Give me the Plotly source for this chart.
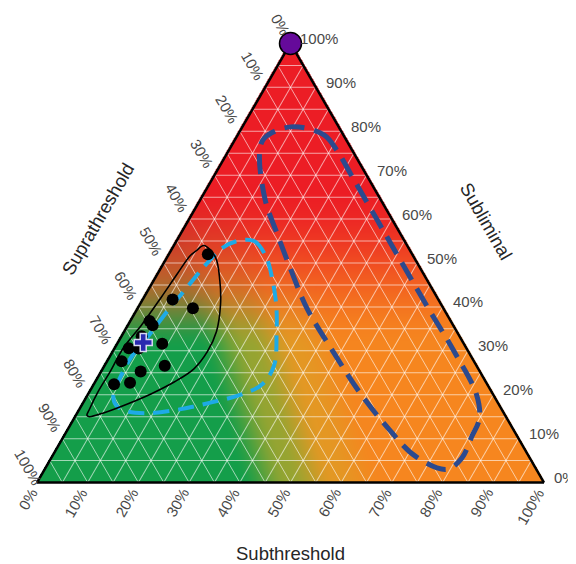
import math
import zlib
import struct
import base64
import numpy as np
import plotly.graph_objects as go

# ---------------- data (percent) ----------------
# a = Subliminal (top), b = Suprathreshold (bottom-left), c = Subthreshold (bottom-right)
dots_subliminal = [52.0, 41.7, 39.7, 36.8, 35.8, 33.3, 30.6, 30.5, 31.6, 27.6, 25.3, 26.6, 22.4, 22.7]
dots_suprathreshold = [40.3, 52.4, 49.4, 59.4, 59.3, 62.7, 66.6, 64.7, 59.5, 69.5, 66.9, 61.5, 73.6, 70.3]
dots_subthreshold = [7.7, 5.9, 10.9, 3.8, 4.9, 4.0, 2.8, 4.8, 8.9, 2.9, 7.8, 11.9, 4.0, 7.0]

mean_subliminal = [31.9]
mean_suprathreshold = [63.1]
mean_subthreshold = [5.0]

ref_subliminal = [100.0]
ref_suprathreshold = [0.0]
ref_subthreshold = [0.0]

black_subliminal = [54.0, 51.3, 46.0, 40.6, 34.4, 29.8, 25.9, 22.9, 20.2, 17.9, 15.9, 15.0, 15.3, 16.7, 20.6, 25.2, 30.6, 36.0, 42.1, 47.5, 51.7, 53.7]
black_suprathreshold = [40.1, 39.1, 41.0, 43.5, 47.4, 51.5, 56.1, 61.5, 67.5, 73.2, 78.7, 82.2, 82.5, 81.3, 77.7, 73.0, 67.7, 61.3, 54.5, 48.6, 43.9, 43.0]
black_subthreshold = [5.9, 9.5, 13.1, 15.9, 18.2, 18.7, 18.0, 15.6, 12.4, 8.9, 5.3, 2.8, 2.2, 2.0, 1.7, 1.8, 1.7, 2.7, 3.4, 3.9, 4.4, 5.1]

light_subliminal = [55.0, 55.0, 51.5, 46.4, 40.2, 33.7, 26.8, 22.5, 20.2, 18.2, 16.6, 15.8, 16.3, 17.6, 19.9, 23.3, 28.4, 33.5, 39.0, 44.6, 49.7, 53.4]
light_suprathreshold = [33.0, 29.7, 29.1, 30.4, 32.7, 35.9, 39.8, 44.2, 49.2, 56.7, 63.9, 70.6, 74.3, 75.6, 75.0, 72.2, 67.3, 61.2, 54.8, 48.0, 41.8, 36.8]
light_subthreshold = [12.0, 15.3, 19.4, 23.2, 27.1, 30.4, 33.4, 33.3, 30.6, 25.1, 19.5, 13.6, 9.4, 6.8, 5.1, 4.5, 4.3, 5.3, 6.2, 7.4, 8.5, 9.8]

dark_subliminal = [81.0, 79.2, 75.0, 70.0, 60.0, 50.0, 40.0, 30.0, 20.0, 14.5, 10.6, 5.5, 3.0, 5.9, 12.1, 20.6, 29.8, 39.8, 49.0, 56.7, 64.4, 75.0, 78.4]
dark_suprathreshold = [9.5, 3.8, 3.0, 3.0, 3.0, 3.0, 3.0, 2.8, 3.3, 5.5, 8.9, 13.5, 17.7, 22.3, 24.5, 26.1, 26.7, 26.9, 25.6, 24.3, 22.8, 18.6, 16.0]
dark_subthreshold = [9.5, 17.0, 22.0, 27.0, 37.0, 47.0, 57.0, 67.2, 76.7, 80.0, 80.5, 81.0, 79.3, 71.8, 63.4, 53.3, 43.5, 33.3, 25.4, 19.0, 12.8, 6.4, 5.6]

tick_values = [0, 10, 20, 30, 40, 50, 60, 70, 80, 90, 100]
tick_labels = [f"{v}%" for v in tick_values]

# ---------------- geometry (page pixels; the html body adds an 8px offset) ----------------
OFF = 8
FW, FH = 576 - OFF, 564 - OFF
ML, MT, MB = 36.5 - OFF, 43 - OFF, 81
PW = 508
MR = FW - ML - PW
PH = FH - MT - MB
TW = min(PW, PH * 2 / math.sqrt(3))
TH = TW * math.sqrt(3) / 2
X0 = ML + PW / 2 - TW / 2          # figure coords
Y0 = MT + PH / 2 - TH / 2

FONT = "Liberation Sans, Arial, sans-serif"


def tern_px(a, c):
    """ternary fractions -> page pixel"""
    return X0 + OFF + TW * (c + a / 2), Y0 + OFF + TH * (1 - a)


def paper(px, py):
    fx, fy = px - OFF, py - OFF
    return (fx - ML) / PW, (MT + PH - fy) / PH


# ---------------- gradient background ----------------
IW, IH = int(round(TW)), int(round(TH))
ii = (np.arange(IW) + 0.5) / IW
jj = (np.arange(IH) + 0.5) / IH
XF, YF = np.meshgrid(ii, jj)
A = 1 - YF
C = XF - A / 2
B = 1 - A - C

stops_u = [0.40, 0.50, 0.59, 0.69]
stops_c = [np.array(v, float) for v in [(20, 158, 74), (150, 165, 50), (228, 152, 36), (246, 134, 31)]]
orange = stops_c[-1]
red = np.array([236, 29, 37], float)


def smooth(t):
    t = np.clip(t, 0, 1)
    return t * t * (3 - 2 * t)


U = XF + 0.26 * A
base = np.zeros(U.shape + (3,))
base[:] = stops_c[0]
for k in range(len(stops_u) - 1):
    t = smooth((U - stops_u[k]) / (stops_u[k + 1] - stops_u[k]))[..., None]
    mask = (U >= stops_u[k])[..., None]
    base = np.where(mask, stops_c[k] * (1 - t) + stops_c[k + 1] * t, base)
r = smooth((A - 0.30) / 0.38)[..., None]
q = 0.6 * 4 * r * (1 - r)
base = base * (1 - q) + orange * q
col = base * (1 - r) + red * r
eps = 1.5 / TW
inside = (B >= -eps) & (C >= -eps)
rgba = np.zeros((IH, IW, 4), np.uint8)
rgba[..., :3] = np.clip(col, 0, 255).astype(np.uint8)
rgba[..., 3] = np.where(inside, 255, 0).astype(np.uint8)


def make_png(arr):
    h, w, _ = arr.shape
    raw = b"".join(b"\x00" + arr[k].tobytes() for k in range(h))

    def chunk(tag, data):
        return struct.pack(">I", len(data)) + tag + data + struct.pack(">I", zlib.crc32(tag + data) & 0xFFFFFFFF)

    return (b"\x89PNG\r\n\x1a\n" + chunk(b"IHDR", struct.pack(">IIBBBBB", w, h, 8, 6, 0, 0, 0))
            + chunk(b"IDAT", zlib.compress(raw, 9)) + chunk(b"IEND", b""))


png_uri = "data:image/png;base64," + base64.b64encode(make_png(rgba)).decode()

# ---------------- figure ----------------
fig = go.Figure()


def closed(lst):
    return list(lst) + [lst[0]]


fig.add_trace(go.Scatterternary(
    a=closed(dark_subliminal), b=closed(dark_suprathreshold), c=closed(dark_subthreshold),
    mode="lines", line=dict(color="#2c4a8e", width=5, dash="20px,10px", shape="spline"),
    hoverinfo="skip", showlegend=False))
fig.add_trace(go.Scatterternary(
    a=closed(light_subliminal), b=closed(light_suprathreshold), c=closed(light_subthreshold),
    mode="lines", line=dict(color="#1eaae6", width=4, dash="16px,9px", shape="spline"),
    hoverinfo="skip", showlegend=False))
fig.add_trace(go.Scatterternary(
    a=closed(black_subliminal), b=closed(black_suprathreshold), c=closed(black_subthreshold),
    mode="lines", line=dict(color="black", width=1.6, shape="spline"),
    hoverinfo="skip", showlegend=False))
fig.add_trace(go.Scatterternary(
    a=dots_subliminal, b=dots_suprathreshold, c=dots_subthreshold,
    mode="markers", marker=dict(color="black", size=12), showlegend=False))
fig.add_trace(go.Scatterternary(
    a=mean_subliminal, b=mean_suprathreshold, c=mean_subthreshold,
    mode="markers", marker=dict(symbol="cross", color="#2a2ab0", size=15,
                                line=dict(color="#d8d8f0", width=1.5)), showlegend=False))
fig.add_trace(go.Scatterternary(
    a=ref_subliminal, b=ref_suprathreshold, c=ref_subthreshold, cliponaxis=False,
    mode="markers", marker=dict(color="#650a9a", size=22, line=dict(color="black", width=1.5)),
    showlegend=False))

axis_common = dict(
    showgrid=True, gridcolor="rgba(255,255,255,0.6)", gridwidth=1,
    showline=True, linecolor="black", linewidth=2.5,
    tickmode="linear", tick0=0, dtick=5, ticks="", showticklabels=False,
    layer="below traces", title=dict(text=""), min=0,
)

annotations = []
FS = 15
lab_font = dict(family=FONT, size=FS, color="#484848")


def text_len(t):
    return 0.556 * FS * (len(t) - 1) + 0.889 * FS


for v, t in zip(tick_values, tick_labels):
    k = v / 100
    L = text_len(t)
    # right edge: Subliminal
    px, py = tern_px(k, 1 - k)
    fx, fy = paper(px + 8, py - 5)
    annotations.append(dict(x=fx, y=fy, xref="paper", yref="paper", text=t, showarrow=False,
                            xanchor="left", yanchor="middle", font=lab_font))
    # bottom edge: Subthreshold
    px, py = tern_px(0, k)
    d = 8 + L / 2
    fx, fy = paper(px - 0.5 * d, py + 0.866 * d)
    annotations.append(dict(x=fx, y=fy, xref="paper", yref="paper", text=t, showarrow=False,
                            xanchor="center", yanchor="middle", textangle=-60, font=lab_font))
    # left edge: Suprathreshold
    px, py = tern_px(1 - k, 0)
    d = 10 + L / 2
    half_w = 0.25 * L + 0.433 * FS * 1.15
    left_edge = px - 0.5 * d - half_w
    if left_edge < OFF + 2:
        d -= (OFF + 2 - left_edge) / 0.5
    fx, fy = paper(px - 0.5 * d, py - 0.866 * d)
    annotations.append(dict(x=fx, y=fy, xref="paper", yref="paper", text=t, showarrow=False,
                            xanchor="center", yanchor="middle", textangle=60, font=lab_font))

title_font = dict(family=FONT, size=18.5, color="#262626")
for text, (px, py), ang in [("Suprathreshold", (97, 219), -60),
                            ("Subliminal", (487, 221), 60),
                            ("Subthreshold", (291, 553), 0)]:
    fx, fy = paper(px, py)
    annotations.append(dict(x=fx, y=fy, xref="paper", yref="paper", text=text, showarrow=False,
                            xanchor="center", yanchor="middle", textangle=ang, font=title_font))

fig.update_layout(
    width=FW, height=FH, autosize=False,
    margin=dict(l=ML, r=MR, t=MT, b=MB, pad=0),
    paper_bgcolor="white", plot_bgcolor="white",
    font=dict(family=FONT),
    showlegend=False,
    ternary=dict(
        sum=100, bgcolor="rgba(0,0,0,0)",
        domain=dict(x=[0, 1], y=[0, 1]),
        aaxis=axis_common, baxis=axis_common, caxis=axis_common,
    ),
    images=[dict(source=png_uri, xref="paper", yref="paper",
                 x=(X0 - ML) / PW, y=(MT + PH - Y0) / PH,
                 sizex=TW / PW, sizey=TH / PH, xanchor="left", yanchor="top",
                 sizing="stretch", layer="below")],
    annotations=annotations,
)

fig.write_html("out.html")
